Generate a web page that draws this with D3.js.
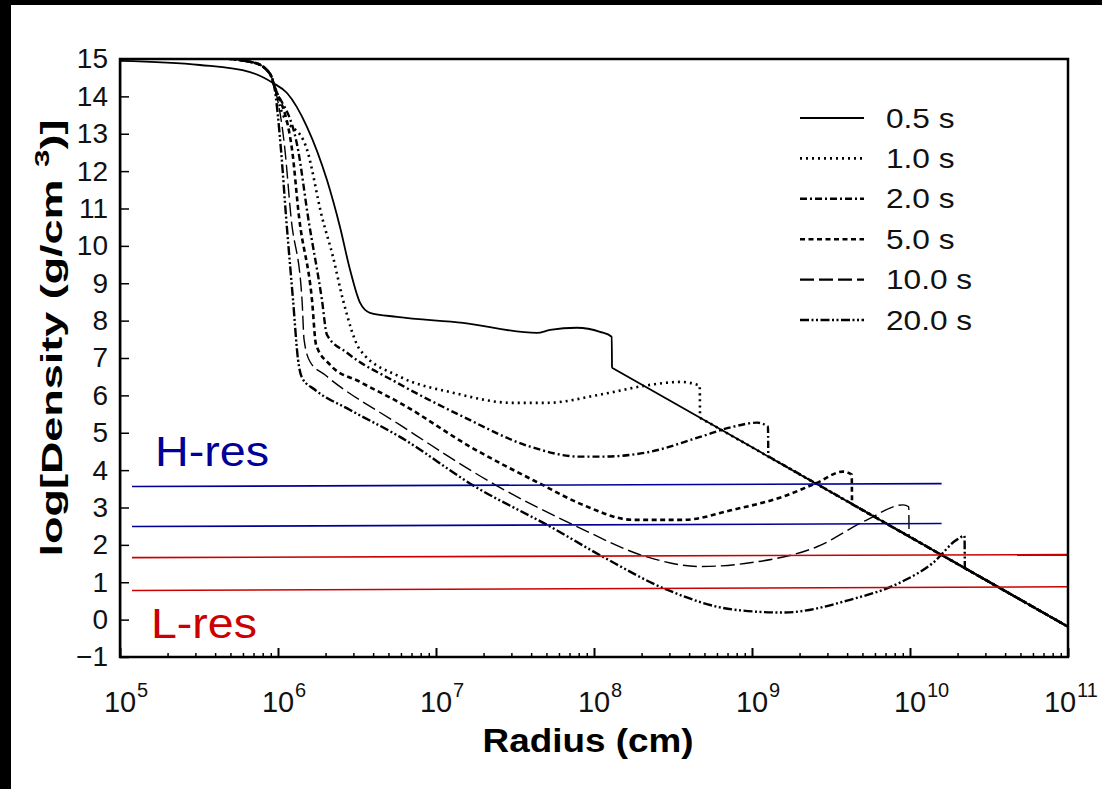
<!DOCTYPE html>
<html>
<head>
<meta charset="utf-8">
<script src="https://cdn.jsdelivr.net/npm/d3@7"></script>
<style>
  body { margin: 0; background: #fff; }
  text { font-family: "Liberation Sans", Arial, sans-serif; }
</style>
</head>
<body>
<div id="chart"></div>
<script>
// log10 of radius (cm) and log10 of density (g/cm^3)
var times = ["0.5 s", "1.0 s", "2.0 s", "5.0 s", "10.0 s", "20.0 s"];

var r05 = [5.0, 5.506, 5.823, 5.968, 6.057, 6.184, 6.31, 6.392, 6.456, 6.519, 6.582, 6.753, 7.171, 7.639, 7.722, 7.892, 8.038, 8.112, 8.114, 11.0];
var d05 = [14.95, 14.84, 14.65, 14.36, 14.09, 13.18, 11.76, 10.51, 9.36, 8.48, 8.21, 8.10, 7.94, 7.67, 7.75, 7.81, 7.70, 7.57, 6.74, -0.19];

var r10 = [5.0, 5.6, 5.85, 5.95, 5.975, 6.013, 6.184, 6.278, 6.348, 6.411, 6.519, 6.772, 7.108, 7.487, 7.703, 8.038, 8.354, 8.544, 8.669, 8.671, 11.0];
var d10 = [15.02, 15.02, 14.9, 14.6, 14.3, 13.72, 12.57, 10.78, 9.71, 8.56, 7.22, 6.50, 6.07, 5.80, 5.80, 6.02, 6.28, 6.36, 6.26, 5.40, -0.19];

var r20 = [5.0, 5.6, 5.85, 5.95, 5.975, 6.127, 6.190, 6.278, 6.310, 6.437, 6.753, 7.171, 7.595, 7.911, 8.038, 8.354, 8.671, 8.880, 9.032, 9.101, 9.103, 11.0];
var d20 = [15.02, 15.02, 14.9, 14.6, 14.3, 12.57, 10.78, 8.56, 7.62, 7.14, 6.34, 5.43, 4.63, 4.36, 4.36, 4.49, 4.89, 5.16, 5.27, 5.16, 4.37, -0.19];

var r50 = [5.0, 5.6, 5.85, 5.95, 5.975, 6.089, 6.133, 6.215, 6.241, 6.329, 6.519, 6.772, 7.215, 7.658, 7.930, 8.247, 8.563, 8.880, 9.196, 9.411, 9.576, 9.631, 9.633, 11.0];
var d50 = [15.02, 15.02, 14.9, 14.6, 14.3, 12.57, 10.78, 8.56, 7.35, 6.82, 6.36, 5.80, 4.63, 3.64, 3.07, 2.67, 2.67, 2.94, 3.29, 3.66, 3.96, 3.88, 3.09, -0.19];

var r100 = [5.0, 5.6, 5.85, 5.95, 5.975, 6.044, 6.082, 6.152, 6.165, 6.203, 6.297, 6.772, 7.386, 7.892, 8.335, 8.671, 8.987, 9.411, 9.728, 9.956, 9.992, 9.994, 11.0];
var d100 = [15.02, 15.02, 14.9, 14.6, 14.3, 12.57, 10.78, 8.56, 7.49, 6.90, 6.55, 5.21, 3.58, 2.49, 1.68, 1.42, 1.52, 1.95, 2.67, 3.07, 3.02, 2.22, -0.19];

var r200 = [5.0, 5.6, 5.85, 5.95, 5.975, 6.019, 6.051, 6.095, 6.127, 6.152, 6.234, 6.456, 6.772, 7.247, 7.722, 8.057, 8.462, 8.880, 9.196, 9.620, 9.937, 10.146, 10.297, 10.345, 10.347, 11.0];
var d200 = [15.02, 15.02, 14.9, 14.6, 14.3, 12.57, 10.78, 8.56, 6.95, 6.47, 6.15, 5.61, 4.89, 3.56, 2.49, 1.68, 0.80, 0.27, 0.19, 0.53, 0.99, 1.52, 2.14, 2.24, 1.38, -0.19];

// resolution limits (start/end radius, start/end density)
var hresR = [5.076, 10.2];
var hresTop = [3.56, 3.64];
var hresBot = [2.49, 2.57];
var lresR = [5.076, 11.0];
var lresTop = [1.66, 1.74];
var lresBot = [0.78, 0.88];

var yTicks = d3.range(-1, 16);
var decades = [5, 6, 7, 8, 9, 10, 11];

var svgWidth = 1102, svgHeight = 789;
var margin = {top: 59, right: 34, bottom: 132, left: 120};
var width = svgWidth - margin.left - margin.right;
var height = svgHeight - margin.top - margin.bottom;

var svg = d3.select("#chart").append("svg")
  .attr("width", svgWidth)
  .attr("height", svgHeight);

svg.append("rect").attr("width", svgWidth).attr("height", svgHeight).attr("fill", "#fff");
// black frame of the original screenshot
svg.append("rect").attr("width", svgWidth).attr("height", 5).attr("fill", "#000");
svg.append("rect").attr("width", 11).attr("height", svgHeight).attr("fill", "#000");

var chartGroup = svg.append("g")
  .attr("transform", `translate(${margin.left}, ${margin.top})`);

var x = d3.scaleLog().domain([1e5, 1e11]).range([0, width]);
var y = d3.scaleLinear().domain([-1, 15]).range([height, 0]);

chartGroup.append("clipPath").attr("id", "plotClip")
  .append("rect").attr("width", width).attr("height", height);

var series = [
  {r: r05, d: d05, dash: null, w: 1.8},
  {r: r10, d: d10, dash: "2,4", w: 2.6},
  {r: r20, d: d20, dash: "7,3,2,3", w: 2.4},
  {r: r50, d: d50, dash: "5,3.5", w: 2.6},
  {r: r100, d: d100, dash: "14,5", w: 1.4},
  {r: r200, d: d200, dash: "9,2.5,2,2.5,2,2.5", w: 2.4}
];

function toPoints(rs, ds) {
  return rs.map(function(v, i) { return [v, ds[i]]; });
}

var line = d3.line()
  .x(p => x(Math.pow(10, p[0])))
  .y(p => y(p[1]))
  .curve(d3.curveMonotoneX);

var straight = d3.line()
  .x(p => x(Math.pow(10, p[0])))
  .y(p => y(p[1]));

var plot = chartGroup.append("g").attr("clip-path", "url(#plotClip)");

// smooth profile up to the shock, then the straight outer power law
plot.selectAll("path.curve")
  .data(series)
  .enter()
  .append("path")
  .attr("class", "curve")
  .attr("d", function(s) {
    var pts = toPoints(s.r, s.d);
    return line(pts.slice(0, -1)) + straight(pts.slice(-2));
  })
  .attr("fill", "none")
  .attr("stroke", "#000")
  .attr("stroke-width", s => s.w)
  .attr("stroke-dasharray", s => s.dash);

// resolution lines
var resLines = [
  {r: hresR, d: hresTop, c: "#000099"},
  {r: hresR, d: hresBot, c: "#000099"},
  {r: lresR, d: lresTop, c: "#cc0000"},
  {r: lresR, d: lresBot, c: "#cc0000"}
];

plot.selectAll("path.res")
  .data(resLines)
  .enter()
  .append("path")
  .attr("class", "res")
  .attr("d", s => straight(toPoints(s.r, s.d)))
  .attr("fill", "none")
  .attr("stroke", s => s.c)
  .attr("stroke-width", 1.6);

// stretch a text horizontally (in its own frame) to a target width
function fitWidth(sel, target, tx, ty, rot) {
  var w = sel.node().getBBox().width;
  var k = target / w;
  sel.attr("transform", `translate(${tx},${ty})` + (rot ? ` rotate(${rot})` : "") + ` scale(${k},1)`);
}

var hres = svg.append("text").attr("fill", "#000099").style("font-size", "43px").text("H-res");
fitWidth(hres, 114, 155, 466);
var lres = svg.append("text").attr("fill", "#cc0000").style("font-size", "43px").text("L-res");
fitWidth(lres, 106, 151, 638);

// frame
chartGroup.append("rect")
  .attr("width", width).attr("height", height)
  .attr("fill", "none").attr("stroke", "#000").attr("stroke-width", 2.5);

// y axis
var yAxis = d3.axisLeft(y).tickValues(yTicks).tickSizeInner(-9).tickSizeOuter(0).tickPadding(12);
var yg = chartGroup.append("g").call(yAxis);
yg.select(".domain").attr("stroke-width", 1.5);
yg.selectAll(".tick line").attr("stroke-width", 1.5);
yg.selectAll(".tick text").style("font-size", "28px").attr("fill", "#111")
  .attr("font-family", "Liberation Sans, Arial, sans-serif");

// x axis: major and minor ticks, pointing inward
var minor = [];
decades.slice(0, -1).forEach(function(n) {
  for (var k = 2; k <= 9; k++) minor.push(k * Math.pow(10, n));
});
var xMajor = d3.axisBottom(x).tickValues(decades.map(n => Math.pow(10, n)))
  .tickSizeInner(-9).tickSizeOuter(0).tickFormat("");
var xMinor = d3.axisBottom(x).tickValues(minor).tickSizeInner(-4).tickSizeOuter(0).tickFormat("");
var xg = chartGroup.append("g").attr("transform", `translate(0, ${height})`);
xg.append("g").call(xMajor).selectAll(".tick line").attr("stroke-width", 2);
xg.append("g").call(xMinor).selectAll(".tick line").attr("stroke-width", 1.5);
xg.selectAll(".domain").remove();

var xLabels = chartGroup.append("g").selectAll("g")
  .data(decades)
  .enter()
  .append("g")
  .attr("transform", n => `translate(${x(Math.pow(10, n)) - (n === 11 ? 8 : 0)}, ${height + 55})`);
xLabels.append("text").attr("text-anchor", "middle").style("font-size", "29px").attr("fill", "#111").text("10");
xLabels.append("text").attr("x", 17).attr("y", -15).style("font-size", "20px").attr("fill", "#111")
  .text(n => n);

// axis titles
var xTitle = svg.append("text")
  .attr("text-anchor", "middle")
  .style("font-size", "33px").style("font-weight", "bold")
  .text("Radius (cm)");
fitWidth(xTitle, 211, 588, 752);

var yTitle = svg.append("text")
  .attr("text-anchor", "middle")
  .style("font-size", "30px").style("font-weight", "bold");
yTitle.append("tspan").text("log[Density (g/cm ");
yTitle.append("tspan").attr("dy", -13).style("font-size", "21px").text("3");
yTitle.append("tspan").attr("dy", 13).text(")]");
fitWidth(yTitle, 437, 62, 338, -90);

// legend
var legend = svg.append("g").selectAll("g")
  .data(series)
  .enter()
  .append("g")
  .attr("transform", (s, i) => `translate(800, ${118 + i * 40.4})`);
legend.append("line")
  .attr("x1", 0).attr("x2", 64)
  .attr("stroke", "#000")
  .attr("stroke-width", s => Math.max(s.w, 2.2))
  .attr("stroke-dasharray", s => s.dash);
legend.append("text")
  .style("font-size", "28px").attr("fill", "#111")
  .text((s, i) => times[i])
  .each(function() {
    var t = d3.select(this);
    fitWidth(t, t.node().getBBox().width * 1.13, 86, 9.5);
  });
</script>
</body>
</html>
